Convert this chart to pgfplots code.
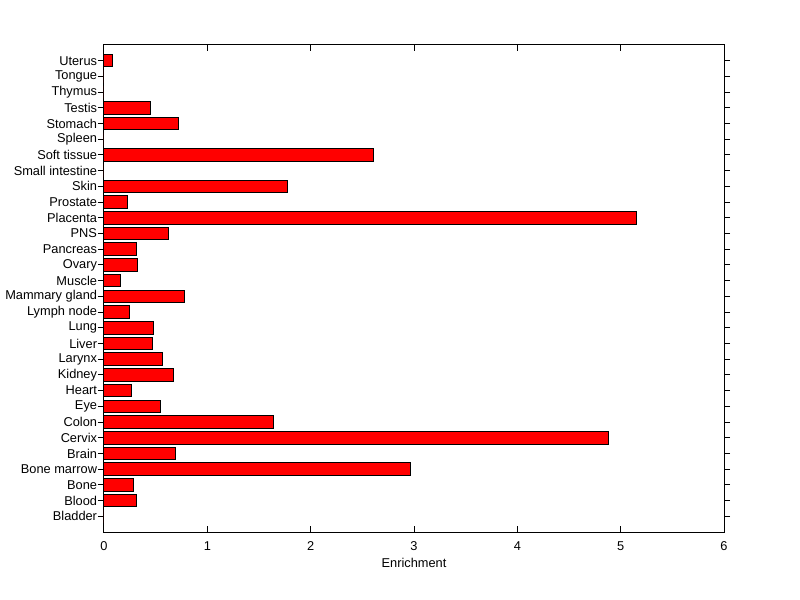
\documentclass[border=0pt]{standalone}
\usepackage{fontspec}
\setmainfont{Liberation Sans}
\usepackage{pgfplots}
\pgfplotsset{compat=1.18}
\begin{document}
\begin{tikzpicture}
\begin{axis}[
  scale only axis, width=465pt, height=365.25pt,
  xmin=0, xmax=6, ymin=-1, ymax=30,
  xtick={0,1,2,3,4,5,6}, ytick={0,1,...,29},
  yticklabels={Bladder,Blood,Bone,Bone marrow,Brain,Cervix,Colon,Eye,Heart,Kidney,Larynx,Liver,Lung,Lymph node,Mammary gland,Muscle,Ovary,Pancreas,PNS,Placenta,Prostate,Skin,Small intestine,Soft tissue,Spleen,Stomach,Testis,Thymus,Tongue,Uterus},
  tick align=inside, major tick length=4.5pt,
  xbar, bar width=0.8,
  tick label style={font=\fontsize{9.6}{11}\selectfont},
  label style={font=\fontsize{9.6}{11}\selectfont},
  yticklabel style={xshift=2.8pt},
  xticklabel style={yshift=-3.5pt},
  xlabel style={yshift=1pt},
  /pgf/number format/assume math mode=true,
  xlabel={Enrichment},
  axis line style={line width=0.75pt},
  every tick/.style={black, line width=0.75pt},
  clip=false,
]
\addplot[fill=red, draw=black, line width=0.75pt] coordinates {
(0,0) (0.313,1) (0.284,2) (2.966,3) (0.691,4) (4.88,5) (1.639,6) (0.546,7) (0.265,8) (0.672,9)
(0.565,10) (0.468,11) (0.478,12) (0.246,13) (0.778,14) (0.159,15) (0.323,16) (0.313,17) (0.623,18) (5.153,19)
(0.226,20) (1.775,21) (0,22) (2.607,23) (0,24) (0.72,25) (0.449,26) (0,27) (0,28) (0.081,29)
};
\end{axis}
\pgfresetboundingbox
\path[use as bounding box] ([shift={(-78pt,-50.25pt)}]current axis.south west) rectangle ([shift={(57pt,33.75pt)}]current axis.north east);
\end{tikzpicture}
\end{document}
